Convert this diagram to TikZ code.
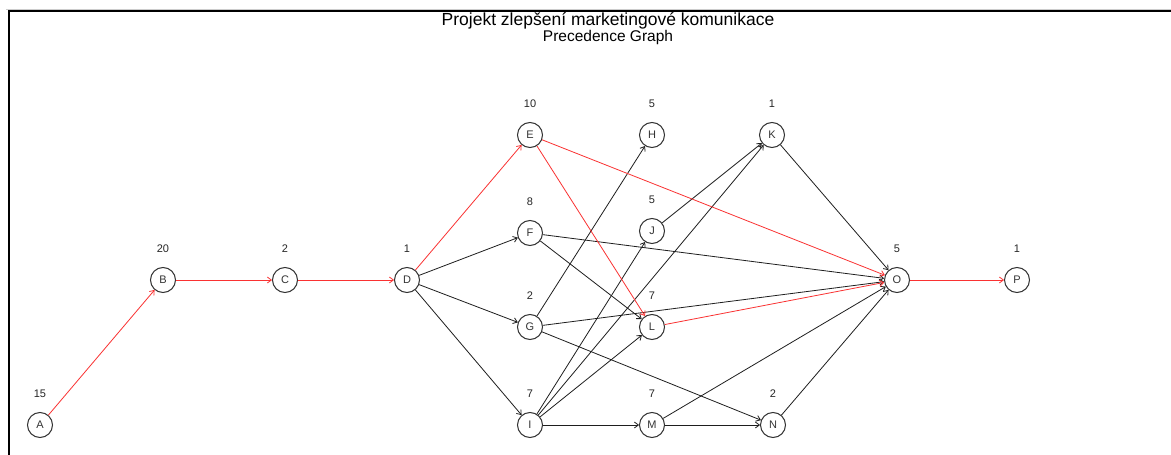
\documentclass[tikz,border=0pt]{standalone}
\usepackage{fontspec}
\setmainfont{Liberation Sans}
\usetikzlibrary{arrows.meta}
\definecolor{edgered}{RGB}{250,50,50}
\definecolor{edgeblack}{RGB}{30,30,30}
\definecolor{nodegray}{RGB}{50,50,50}
\tikzset{
  task/.style={circle,draw=nodegray,line width=1pt,minimum size=25pt,inner sep=0pt,
    font=\fontsize{11}{13}\selectfont,text=black!80},
  dur/.style={anchor=center,font=\fontsize{11}{13}\selectfont,text=black!85,inner sep=0pt},
  edge/.style={draw=edgeblack,line width=0.8pt,-{Straight Barb[length=4pt,width=6pt]}},
  crit/.style={edge,draw=edgered},
}
\begin{document}
\begin{tikzpicture}[x=1pt,y=-1pt]
\useasboundingbox (0,0) rectangle (1171,455);
\fill[white] (0,0) rectangle (1171,455);
% frame
\draw[black!20,line width=1pt] (6,9) -- (1171,9);
\draw[black,line width=2pt] (9,455) -- (9,11) -- (1171,11);
% titles
\node (title) at (608,21) {\fontsize{17.5}{20}\selectfont Projekt zlepšení marketingové komunikace};
\node (subtitle) at (608,37) {\fontsize{15.5}{18}\selectfont Precedence Graph};
% nodes
\node[task] (A) at (40,425) {A};
\node[task] (B) at (163,280) {B};
\node[task] (C) at (285,280) {C};
\node[task] (D) at (407,280) {D};
\node[task] (E) at (530,135) {E};
\node[task] (F) at (530,233) {F};
\node[task] (G) at (530,327) {G};
\node[task] (H) at (652,135) {H};
\node[task] (I) at (530,425) {I};
\node[task] (J) at (652,231) {J};
\node[task] (K) at (772,135) {K};
\node[task] (L) at (652,327) {L};
\node[task] (M) at (652,425) {M};
\node[task] (N) at (773,425) {N};
\node[task] (O) at (897,280) {O};
\node[task] (P) at (1017,280) {P};
% durations
\node[dur] (dA) at (40,394) {15};
\node[dur] (dB) at (163,249) {20};
\node[dur] (dC) at (285,249) {2};
\node[dur] (dD) at (407,249) {1};
\node[dur] (dE) at (530,104) {10};
\node[dur] (dF) at (530,202) {8};
\node[dur] (dG) at (530,296) {2};
\node[dur] (dH) at (652,104) {5};
\node[dur] (dI) at (530,394) {7};
\node[dur] (dJ) at (652,200) {5};
\node[dur] (dK) at (772,104) {1};
\node[dur] (dL) at (652,296) {7};
\node[dur] (dM) at (652,394) {7};
\node[dur] (dN) at (773,394) {2};
\node[dur] (dO) at (897,249) {5};
\node[dur] (dP) at (1017,249) {1};
% edges
\draw[edge] (D) -- (F);
\draw[edge] (D) -- (G);
\draw[edge] (D) -- (I);
\draw[edge] (F) -- (O);
\draw[edge] (F) -- (L);
\draw[edge] (G) -- (H);
\draw[edge] (G) -- (O);
\draw[edge] (G) -- (N);
\draw[edge] (I) -- (J);
\draw[edge] (I) -- (K);
\draw[edge] (I) -- (L);
\draw[edge] (I) -- (M);
\draw[edge] (J) -- (K);
\draw[edge] (K) -- (O);
\draw[edge] (M) -- (N);
\draw[edge] (M) -- (O);
\draw[edge] (N) -- (O);
\draw[crit] (A) -- (B);
\draw[crit] (B) -- (C);
\draw[crit] (C) -- (D);
\draw[crit] (D) -- (E);
\draw[crit] (E) -- (O);
\draw[crit] (E) -- (L);
\draw[crit] (L) -- (O);
\draw[crit] (O) -- (P);
\end{tikzpicture}
\end{document}
